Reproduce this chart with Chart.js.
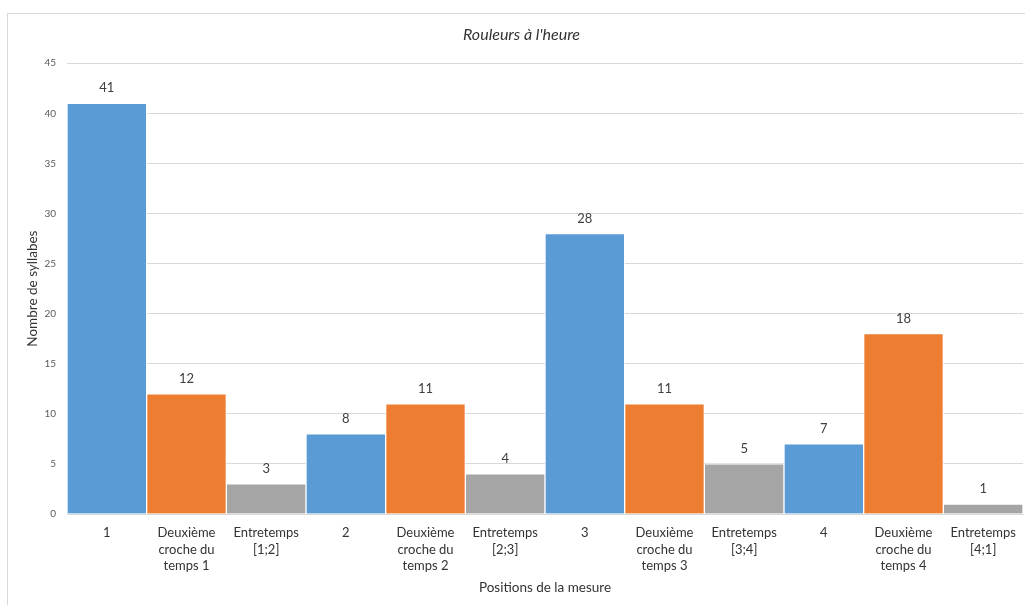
<!DOCTYPE html>
<html>
<head>
<meta charset="utf-8">
<script src="https://cdn.jsdelivr.net/npm/chart.js@4.4.0/dist/chart.umd.min.js"></script>
<style>
    body { margin: 0; background: #fff; overflow: hidden; }
    #wrap {
        position: absolute; left: 7px; top: 13px;
        width: 1028px; height: 600px;
        border: 1px solid #d9d9d9;
    }
</style>
</head>
<body>
<div id="wrap"><canvas id="chart" width="1028" height="600"></canvas></div>
<script>
// Chart data
const categories = [
    '1', ['Deuxième', 'croche du', 'temps 1'], ['Entretemps', '[1;2]'],
    '2', ['Deuxième', 'croche du', 'temps 2'], ['Entretemps', '[2;3]'],
    '3', ['Deuxième', 'croche du', 'temps 3'], ['Entretemps', '[3;4]'],
    '4', ['Deuxième', 'croche du', 'temps 4'], ['Entretemps', '[4;1]']
];
const syllables = [41, 12, 3, 8, 11, 4, 28, 11, 5, 7, 18, 1];
const barColors = ['#5b9bd5', '#ed7d31', '#a5a5a5'];
const yTicks = [0, 5, 10, 15, 20, 25, 30, 35, 40, 45];

const FONT = 'Lato, "Open Sans", sans-serif';

// Value labels above bars
const valueLabels = {
    id: 'valueLabels',
    afterDatasetsDraw(chart) {
        const ctx = chart.ctx;
        const meta = chart.getDatasetMeta(0);
        ctx.save();
        ctx.font = '13px ' + FONT;
        ctx.fillStyle = '#404040';
        ctx.textAlign = 'center';
        ctx.textBaseline = 'middle';
        meta.data.forEach((bar, i) => {
            ctx.fillText(String(syllables[i]), bar.x, bar.y - 15);
        });
        ctx.restore();
    }
};

new Chart(document.getElementById('chart'), {
    type: 'bar',
    data: {
        labels: categories,
        datasets: [{
            data: syllables,
            backgroundColor: categories.map((c, i) => barColors[i % 3]),
            borderColor: '#ffffff',
            borderWidth: 1,
            barPercentage: 1,
            categoryPercentage: 1
        }]
    },
    options: {
        responsive: false,
        animation: false,
        layout: { padding: { left: 12, right: 13, top: 0, bottom: 14 } },
        plugins: {
            legend: { display: false },
            tooltip: { enabled: false },
            title: {
                display: true,
                text: 'Rouleurs à l\'heure',
                color: '#333333',
                font: { family: FONT, size: 16, style: 'italic', weight: 'normal' },
                padding: { top: 11, bottom: 19 }
            }
        },
        scales: {
            x: {
                grid: { display: false, drawTicks: false },
                border: { color: '#d9d9d9' },
                ticks: {
                    color: '#333333',
                    font: { family: FONT, size: 13, lineHeight: 1.3 },
                    padding: 10,
                    maxRotation: 0,
                    autoSkip: false
                },
                title: {
                    display: true,
                    text: 'Positions de la mesure',
                    color: '#333333',
                    font: { family: FONT, size: 13.5 }
                },
                afterFit(scale) { scale.height = 86; }
            },
            y: {
                min: 0,
                max: 45,
                afterBuildTicks(scale) { scale.ticks = yTicks.map(v => ({ value: v })); },
                grid: { color: '#d9d9d9', drawTicks: false },
                border: { display: false },
                ticks: {
                    color: '#595959',
                    font: { family: FONT, size: 10 },
                    padding: 11
                },
                title: {
                    display: true,
                    text: 'Nombre de syllabes',
                    color: '#333333',
                    font: { family: FONT, size: 13.5 },
                    padding: 5
                },
                afterFit(scale) { scale.width = 47; }
            }
        }
    },
    plugins: [valueLabels]
});
</script>
</body>
</html>
